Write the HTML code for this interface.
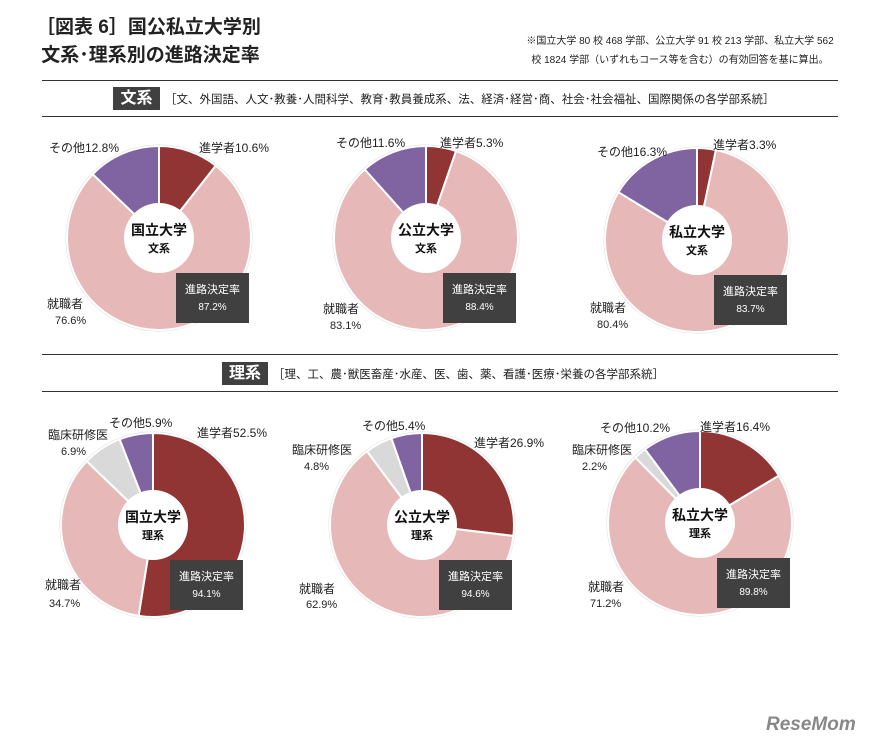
<!DOCTYPE html>
<html><head><meta charset="utf-8">
<style>
body{margin:0;width:876px;height:750px;background:#fff;overflow:hidden;font-family:"Liberation Sans","Noto Sans CJK JP",sans-serif;color:#222;}
.abs{position:absolute;}
.title{left:36px;top:14px;font-size:19px;font-weight:bold;line-height:28px;}
.note{left:505px;top:32px;font-size:10px;line-height:19px;text-align:center;width:350px;}
.hr{left:42px;width:796px;height:0;border-top:1.5px solid #333;}
.tag{background:#404040;color:#fff;font-size:16px;font-weight:bold;text-align:center;line-height:23px;height:23px;}
.cat{font-size:11.5px;}
</style></head><body>
<div class="abs title">［図表 6］国公私立大学別<br>&nbsp;文系･理系別の進路決定率</div>
<div class="abs note">※国立大学 80 校 468 学部、公立大学 91 校 213 学部、私立大学 562<br>校 1824 学部（いずれもコース等を含む）の有効回答を基に算出。</div>
<div class="abs hr" style="top:80px"></div>
<div class="abs tag" style="left:113px;top:87px;width:47px">文系</div>
<div class="abs cat" style="left:165px;top:91px">［文、外国語、人文･教養･人間科学、教育･教員養成系、法、経済･経営･商、社会･社会福祉、国際関係の各学部系統］</div>
<div class="abs hr" style="top:116px"></div>
<div class="abs hr" style="top:354px"></div>
<div class="abs tag" style="left:222px;top:362px;width:46px">理系</div>
<div class="abs cat" style="left:273px;top:366px">［理、工、農･獣医畜産･水産、医、歯、薬、看護･医療･栄養の各学部系統］</div>
<div class="abs hr" style="top:391px"></div>
<div class="abs" style="left:766px;top:714px;font-size:19px;font-weight:bold;color:#888;font-style:italic">ReseMom</div>
<svg id="svg" class="abs" style="left:0;top:0" width="876" height="750"></svg>
<script>
const categories=["進学者","就職者","臨床研修医","その他"];
const colors=["#913434","#e6b8b8","#d9d9d9","#8064a2"];
const uni=["国立大学","公立大学","私立大学","国立大学","公立大学","私立大学"];
const field=["文系","文系","文系","理系","理系","理系"];
const shingaku=[10.6,5.3,3.3,52.5,26.9,16.4];
const shushoku=[76.6,83.1,80.4,34.7,62.9,71.2];
const rinsho=[0,0,0,6.9,4.8,2.2];
const sonota=[12.8,11.6,16.3,5.9,5.4,10.2];
const kettei=["87.2%","88.4%","83.7%","94.1%","94.6%","89.8%"];
const centers=[[159,238],[426,238],[697,240],[153,525],[422,525],[700,523]];
const R=92,r=35;
const svg=document.getElementById('svg');
const NS="http://www.w3.org/2000/svg";
function mk(t,a){const e=document.createElementNS(NS,t);for(const k in a)e.setAttribute(k,a[k]);svg.appendChild(e);return e;}
function pt(cx,cy,rad,f){const a=f*2*Math.PI;return [cx+rad*Math.sin(a),cy-rad*Math.cos(a)];}
function txt(x,y,s,size,anchor,fill,bold){const t=mk('text',{x:x,y:y,'font-size':size,'text-anchor':anchor,fill:fill,'font-weight':bold?'bold':'normal'});t.textContent=s;return t;}
const lab=[
 {s:[40,-86],j:[-112,70],j2:[-104,86],o:[-110,-86]},
 {s:[14,-91],j:[-103,75],j2:[-96,91],o:[-90,-91]},
 {s:[16,-91],j:[-107,72],j2:[-100,88],o:[-100,-84]},
 {s:[44,-88],j:[-108,64],j2:[-104,82],c:[-105,-86],c2:[-92,-70],o:[-44,-98]},
 {s:[52,-78],j:[-123,68],j2:[-116,83],c:[-130,-71],c2:[-118,-55],o:[-60,-95]},
 {s:[0,-92],j:[-112,68],j2:[-110,84],c:[-128,-69],c2:[-118,-53],o:[-100,-91]}
];
for(let i=0;i<6;i++){
 const [cx,cy]=centers[i];
 const vals=[shingaku[i],shushoku[i],rinsho[i],sonota[i]];
 const tot=vals.reduce((a,b)=>a+b,0);
 const ring=mk('circle',{cx:cx,cy:cy,r:R+1,fill:'none',stroke:'#ddd','stroke-width':1});
 
 
 let acc=0;
 for(let k=0;k<4;k++){
  if(vals[k]<=0)continue;
  const f0=acc/tot,f1=(acc+vals[k])/tot;acc+=vals[k];
  const p0=pt(cx,cy,R,f0),p1=pt(cx,cy,R,f1);
  const large=(f1-f0)>0.5?1:0;
  const p=mk('path',{d:`M${cx},${cy}L${p0[0]},${p0[1]}A${R},${R} 0 ${large} 1 ${p1[0]},${p1[1]}Z`,fill:colors[k],stroke:'#fff','stroke-width':2});
  
  
 }
 const c=mk('circle',{cx:cx,cy:cy,r:r,fill:'#fff'});
 
 
 txt(cx,cy-3,uni[i],14,'middle','#111',true);
 txt(cx,cy+14,field[i],11,'middle','#111',true);
 const bx=cx+17,by=cy+35;
 const b=mk('rect',{x:bx,y:by,width:73,height:50,fill:'#404040'});
 
 
 txt(bx+36.5,by+20,'進路決定率',11,'middle','#fff',false);
 txt(bx+36.5,by+37,kettei[i],10,'middle','#fff',false);
 const L=lab[i];
 txt(cx+L.s[0],cy+L.s[1],categories[0]+shingaku[i]+'%',12,'start','#222',false);
 txt(cx+L.j[0],cy+L.j[1],categories[1],12,'start','#222',false);
 txt(cx+L.j2[0],cy+L.j2[1],shushoku[i]+'%',11,'start','#222',false);
 if(L.c){txt(cx+L.c[0],cy+L.c[1],categories[2],12,'start','#222',false);
  txt(cx+L.c2[0],cy+L.c2[1],rinsho[i]+'%',11,'start','#222',false);}
 txt(cx+L.o[0],cy+L.o[1],categories[3]+sonota[i]+'%',12,'start','#222',false);
}
</script>
</body></html>
